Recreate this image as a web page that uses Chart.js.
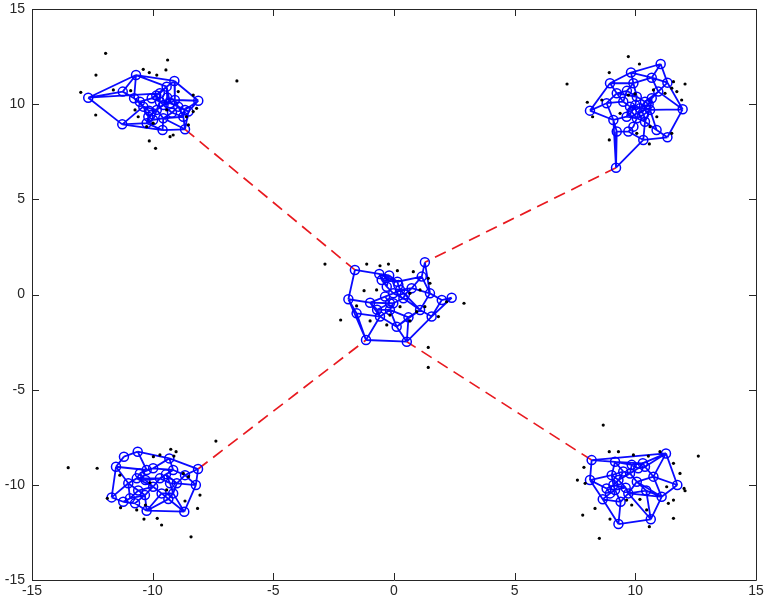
<!DOCTYPE html>
<html>
<head>
<meta charset="utf-8">
<script src="https://cdn.jsdelivr.net/npm/chart.js@4/dist/chart.umd.min.js"></script>
<style>
html,body{margin:0;padding:0;background:#fff;}
canvas{display:block;}
</style>
</head>
<body>
<canvas id="c" width="766" height="602"></canvas>
<script>
// ---------- tick labels ----------
const xTicks = [-15, -10, -5, 0, 5, 10, 15];
const yTicks = [-15, -10, -5, 0, 5, 10, 15];

// ---------- top-left cluster ----------
const tlNodes = [[-12.67,10.34],[-10.69,11.53],[-9.10,11.22],[-8.11,10.18],[-11.24,10.66],[-11.26,8.94],[-9.59,8.64],[-8.66,8.68],[-10.77,10.31],[-10.39,9.87],[-10.18,9.34],[-9.70,10.57],[-9.42,10.92],[-9.70,10.13],[-9.83,9.70],[-9.28,10.05],[-9.08,10.22],[-8.94,9.87],[-8.66,9.70],[-8.73,9.34],[-8.52,9.61],[-10.25,9.00],[-9.98,9.17],[-9.56,9.26],[-10.53,10.13],[-10.04,10.31],[-9.55,9.95],[-9.85,10.45],[-9.20,9.55],[-10.15,9.65],[-9.40,10.35]];
const tlEdges = [[0,1],[0,4],[0,5],[0,11],[1,2],[1,4],[1,12],[1,8],[2,3],[2,12],[2,16],[3,20],[3,16],[3,18],[4,8],[5,21],[5,6],[5,9],[6,7],[6,21],[6,23],[7,19],[7,20],[7,23],[8,24],[8,9],[9,10],[9,24],[10,21],[10,22],[11,12],[11,25],[11,13],[12,15],[13,14],[13,15],[13,25],[14,22],[14,23],[14,9],[15,16],[15,17],[16,17],[17,18],[18,20],[18,19],[19,23],[22,23],[21,22],[24,25],[25,12],[10,14],[17,19],[26,13],[26,15],[26,28],[26,14],[27,11],[27,25],[27,13],[28,17],[28,23],[28,19],[29,9],[29,14],[29,10],[30,15],[30,12],[30,16],[26,30]];
const tlDots = [[-11.95,12.67],[-12.35,11.53],[-12.98,10.62],[-12.36,9.43],[-11.63,10.75],[-10.91,10.71],[-10.39,11.83],[-10.14,11.66],[-9.83,11.53],[-9.38,12.32],[-9.45,11.80],[-8.94,10.66],[-8.32,10.48],[-8.18,9.78],[-8.32,9.61],[-8.60,9.34],[-8.52,8.91],[-9.15,8.38],[-9.28,8.29],[-10.14,8.07],[-9.88,7.68],[-10.73,9.70],[-10.60,9.34],[-10.25,8.82],[-9.98,9.00],[-9.42,9.70],[-6.51,11.22]];

// ---------- top-right cluster ----------
const trNodes = [[11.05,12.11],[9.82,11.66],[8.95,11.10],[10.68,11.39],[9.92,11.10],[11.33,11.13],[10.95,10.66],[8.12,9.66],[11.96,9.73],[9.23,10.57],[9.50,10.13],[10.06,10.39],[10.40,10.13],[10.68,10.31],[8.81,10.05],[9.78,9.87],[10.19,9.78],[10.61,9.70],[9.09,9.17],[9.64,9.34],[10.06,9.26],[10.40,9.08],[9.23,8.56],[9.71,8.56],[10.33,8.12],[11.33,8.26],[9.20,6.66],[10.88,8.64],[9.92,8.82],[10.00,9.95],[10.35,9.45],[9.85,9.60],[10.55,10.00],[9.65,10.70]];
const trEdges = [[0,1],[0,3],[0,5],[1,2],[1,4],[1,3],[2,9],[2,7],[2,4],[3,4],[3,5],[3,6],[5,6],[5,8],[6,13],[6,8],[7,14],[7,18],[8,17],[8,25],[9,10],[9,14],[9,11],[10,15],[10,14],[11,12],[11,4],[12,13],[12,16],[13,17],[14,18],[15,16],[15,19],[16,17],[16,20],[17,21],[17,27],[18,22],[18,19],[19,20],[20,21],[20,28],[21,24],[22,23],[22,26],[23,28],[23,24],[24,25],[24,26],[25,27],[27,21],[12,6],[26,18],[29,11],[29,15],[29,16],[29,31],[30,16],[30,20],[30,21],[30,17],[31,19],[31,15],[31,20],[32,12],[32,13],[32,17],[32,16],[33,9],[33,4],[33,11],[33,10]];
const trDots = [[9.71,12.50],[10.17,12.11],[8.92,11.66],[12.06,11.06],[11.58,11.18],[8.01,10.10],[8.23,9.34],[8.61,10.22],[11.92,10.22],[11.72,10.66],[11.51,10.84],[11.23,10.57],[10.75,10.75],[9.71,10.48],[9.99,10.54],[9.37,9.52],[8.92,8.12],[10.58,7.91],[11.51,8.47],[10.89,9.34],[10.06,8.47],[10.61,8.82],[7.17,11.06]];

// ---------- centre cluster ----------
const cNodes = [[1.28,1.69],[-1.62,1.29],[-0.61,1.08],[0.14,0.67],[1.15,0.94],[-1.89,-0.25],[2.39,-0.17],[-1.16,-2.39],[0.53,-2.48],[1.49,0.06],[1.98,-0.29],[-1.55,-0.99],[-0.99,-0.43],[-0.58,-1.16],[0.11,-1.69],[1.56,-1.16],[1.08,-0.81],[-0.17,-0.46],[-0.37,-0.11],[-0.03,0.06],[0.25,0.24],[-0.30,0.41],[0.39,-0.20],[0.73,0.33],[-0.51,0.76],[0.18,0.50],[-0.03,-0.46],[-0.17,-0.81],[0.45,0.00],[-0.70,-0.80],[0.60,-1.20],[-0.20,1.00]];
const cEdges = [[0,4],[0,9],[1,2],[1,5],[2,3],[2,24],[2,21],[3,4],[3,25],[4,23],[4,9],[5,12],[5,11],[6,10],[6,15],[9,10],[9,23],[9,16],[10,15],[11,7],[11,13],[12,13],[12,18],[13,14],[13,7],[14,8],[14,27],[15,16],[15,8],[16,22],[16,14],[17,18],[17,26],[18,19],[19,20],[19,22],[20,25],[20,23],[21,24],[21,19],[22,26],[26,27],[27,13],[7,8],[24,3],[12,17],[5,7],[28,22],[28,23],[28,16],[28,20],[29,12],[29,13],[29,27],[29,17],[30,14],[30,16],[30,8],[30,27],[31,2],[31,3],[31,21],[31,24]];
const cDots = [[-2.86,1.60],[-1.13,1.60],[-0.58,1.51],[-0.23,1.60],[0.14,1.25],[0.80,1.20],[1.42,0.85],[1.49,0.59],[-1.24,0.20],[-2.21,-1.34],[-1.55,-0.60],[-0.99,-1.39],[0.66,-1.39],[0.94,-0.90],[1.28,-0.64],[2.18,-0.38],[2.90,-0.46],[1.84,-1.16],[1.42,-2.78],[1.42,-3.83],[-0.17,-1.08],[0.25,-0.64],[0.66,0.06],[1.08,0.24],[-0.72,0.24],[-0.30,-1.60]];

// ---------- bottom-left cluster ----------
const blNodes = [[-10.62,-8.26],[-11.19,-8.52],[-9.31,-8.61],[-8.12,-9.17],[-11.52,-9.05],[-11.70,-10.66],[-10.25,-11.36],[-8.69,-11.41],[-8.21,-10.01],[-10.25,-9.22],[-9.15,-9.22],[-8.66,-9.49],[-11.01,-9.92],[-10.66,-9.66],[-9.70,-9.66],[-9.28,-9.92],[-9.98,-10.10],[-9.00,-9.92],[-10.94,-10.71],[-11.22,-10.89],[-9.63,-10.45],[-9.15,-10.45],[-10.32,-10.54],[-10.73,-10.97],[-10.53,-9.40],[-9.98,-9.13],[-10.30,-9.75],[-9.45,-9.45],[-10.60,-10.30],[-9.35,-10.75]];
const blEdges = [[0,1],[0,2],[0,9],[1,4],[2,10],[2,3],[2,25],[3,11],[3,8],[4,12],[4,5],[4,9],[5,19],[5,12],[6,23],[6,7],[6,22],[6,20],[7,8],[7,21],[8,11],[8,17],[9,24],[9,25],[10,11],[10,14],[10,25],[11,17],[12,13],[12,18],[13,24],[13,14],[14,16],[14,15],[15,17],[15,21],[16,22],[16,20],[18,19],[18,22],[19,23],[20,21],[22,23],[24,25],[17,21],[13,16],[7,20],[26,13],[26,14],[26,16],[26,24],[27,10],[27,14],[27,15],[27,17],[28,12],[28,18],[28,22],[28,16],[29,20],[29,21],[29,7],[29,6]];
const blDots = [[-12.30,-9.13],[-11.88,-10.71],[-11.33,-11.20],[-9.25,-8.13],[-9.03,-8.26],[-9.12,-8.49],[-9.70,-8.43],[-9.97,-8.52],[-11.36,-9.49],[-8.73,-9.40],[-8.52,-9.57],[-8.04,-10.54],[-8.14,-11.24],[-9.81,-11.76],[-10.36,-11.80],[-9.63,-12.11],[-8.41,-12.73],[-10.11,-9.89],[-9.42,-10.27],[-8.66,-10.85],[-10.66,-11.32],[-10.30,-11.06],[-7.38,-7.70],[-13.50,-9.10]];

// ---------- bottom-right cluster ----------
const brNodes = [[8.19,-8.70],[11.27,-8.35],[9.16,-8.79],[10.31,-8.87],[8.12,-9.75],[11.74,-10.01],[8.65,-10.76],[9.39,-10.89],[9.30,-12.06],[10.64,-11.81],[11.09,-10.63],[9.71,-10.45],[9.02,-9.49],[9.09,-10.01],[8.81,-10.19],[10.06,-9.84],[10.12,-9.13],[10.75,-9.57],[9.78,-9.40],[9.30,-9.75],[10.40,-9.05],[8.95,-10.45],[9.16,-10.27],[9.50,-9.30],[9.60,-10.15],[10.45,-10.30],[9.85,-8.95]];
const brEdges = [[0,2],[0,4],[0,1],[2,3],[1,3],[1,17],[1,5],[1,20],[3,16],[3,20],[4,6],[4,12],[4,14],[5,10],[5,17],[6,7],[6,8],[6,21],[7,8],[7,11],[7,22],[8,9],[9,10],[9,11],[10,11],[10,15],[10,17],[11,15],[12,19],[12,2],[12,13],[13,14],[13,22],[14,21],[15,18],[15,17],[16,18],[16,20],[18,19],[19,13],[20,17],[21,22],[23,12],[23,18],[23,19],[23,2],[24,11],[24,13],[24,19],[24,22],[25,15],[25,10],[25,11],[25,9],[26,2],[26,16],[26,18],[26,3]];
const brDots = [[8.67,-6.86],[8.92,-8.26],[9.30,-8.26],[9.92,-8.43],[10.54,-8.49],[11.02,-8.26],[12.61,-8.49],[7.87,-9.08],[7.60,-9.75],[7.92,-9.92],[11.58,-8.87],[11.85,-9.40],[12.02,-10.19],[12.06,-10.31],[11.58,-10.80],[11.37,-10.97],[11.58,-11.76],[10.47,-11.32],[10.19,-10.76],[9.85,-11.06],[8.33,-11.24],[7.82,-11.59],[8.95,-11.80],[8.51,-12.81],[10.58,-12.20],[9.64,-10.80],[11.30,-10.10]];

// ---------- red dashed links between clusters: [clusterA, nodeA, clusterB, nodeB] ----------
const links = [["tl",7,"c",1],["tr",26,"c",0],["bl",3,"c",7],["br",0,"c",8]];

// ---------- build datasets ----------
const clusters = {
  tl: {nodes: tlNodes, edges: tlEdges, dots: tlDots},
  tr: {nodes: trNodes, edges: trEdges, dots: trDots},
  c:  {nodes: cNodes,  edges: cEdges,  dots: cDots},
  bl: {nodes: blNodes, edges: blEdges, dots: blDots},
  br: {nodes: brNodes, edges: brEdges, dots: brDots}
};
const pt = p => ({x: p[0], y: p[1]});
const edgeData = [], nodeData = [], dotData = [], linkData = [];
Object.values(clusters).forEach(cl => {
  cl.edges.forEach(e => {
    edgeData.push(pt(cl.nodes[e[0]]), pt(cl.nodes[e[1]]), {x: cl.nodes[e[1]][0], y: null});
  });
  cl.nodes.forEach(n => nodeData.push(pt(n)));
  cl.dots.forEach(d => dotData.push(pt(d)));
});
links.forEach(l => {
  const a = clusters[l[0]].nodes[l[1]], b = clusters[l[2]].nodes[l[3]];
  linkData.push(pt(a), pt(b), {x: b[0], y: null});
});

const AX = '#262626';
const framePlugin = {
  id: 'frame',
  afterDatasetsDraw(chart) {
    const {ctx, chartArea: {left, right, top, bottom}, scales: {x, y}} = chart;
    ctx.save();
    ctx.strokeStyle = AX;
    ctx.lineWidth = 1;
    ctx.beginPath();
    ctx.rect(Math.round(left) + 0.5, Math.round(top) + 0.5, Math.round(right - left), Math.round(bottom - top));
    ctx.stroke();
    const L = 7;
    ctx.beginPath();
    xTicks.forEach(v => {
      const px = Math.round(x.getPixelForValue(v)) + 0.5;
      ctx.moveTo(px, bottom); ctx.lineTo(px, bottom - L);
      ctx.moveTo(px, top); ctx.lineTo(px, top + L);
    });
    yTicks.forEach(v => {
      const py = Math.round(y.getPixelForValue(v)) + 0.5;
      ctx.moveTo(left, py); ctx.lineTo(left + L, py);
      ctx.moveTo(right, py); ctx.lineTo(right - L, py);
    });
    ctx.stroke();
    ctx.restore();
  }
};

const tickFont = {family: "'Liberation Sans', Arial, Helvetica, sans-serif", size: 14};

new Chart(document.getElementById('c'), {
  type: 'scatter',
  data: {
    datasets: [
      {label: 'dots', data: dotData, pointRadius: 1.6, pointBackgroundColor: '#000', pointBorderWidth: 0, showLine: false, order: 1},
      {label: 'nodes', data: nodeData, pointRadius: 4.5, pointBackgroundColor: 'rgba(0,0,0,0)', pointBorderColor: '#0000ff', pointBorderWidth: 1.5, showLine: false, order: 2},
      {label: 'edges', data: edgeData, showLine: true, spanGaps: false, borderColor: '#0a0aff', borderWidth: 1.8, pointRadius: 0, order: 3},
      {label: 'links', data: linkData, showLine: true, spanGaps: false, borderColor: '#e8191f', borderWidth: 1.7, borderDash: [12, 7], pointRadius: 0, order: 4}
    ]
  },
  options: {
    responsive: false,
    animation: false,
    events: [],
    layout: {padding: {top: 9, right: 10, left: 0, bottom: 0}},
    plugins: {legend: {display: false}, tooltip: {enabled: false}},
    scales: {
      x: {
        type: 'linear', min: -15, max: 15,
        afterBuildTicks: s => { s.ticks = xTicks.map(v => ({value: v})); },
        afterFit: s => { s.height = 22; s.paddingLeft = 0; s.paddingRight = 0; },
        grid: {display: false, drawTicks: false},
        border: {display: false},
        ticks: {color: AX, font: tickFont, padding: 3, maxRotation: 0, autoSkip: false}
      },
      y: {
        type: 'linear', min: -15, max: 15,
        afterBuildTicks: s => { s.ticks = yTicks.map(v => ({value: v})); },
        afterFit: s => { s.width = 32; s.paddingTop = 0; s.paddingBottom = 0; },
        grid: {display: false, drawTicks: false},
        border: {display: false},
        ticks: {color: AX, font: tickFont, padding: 7, autoSkip: false}
      }
    }
  },
  plugins: [framePlugin]
});
</script>
</body>
</html>
